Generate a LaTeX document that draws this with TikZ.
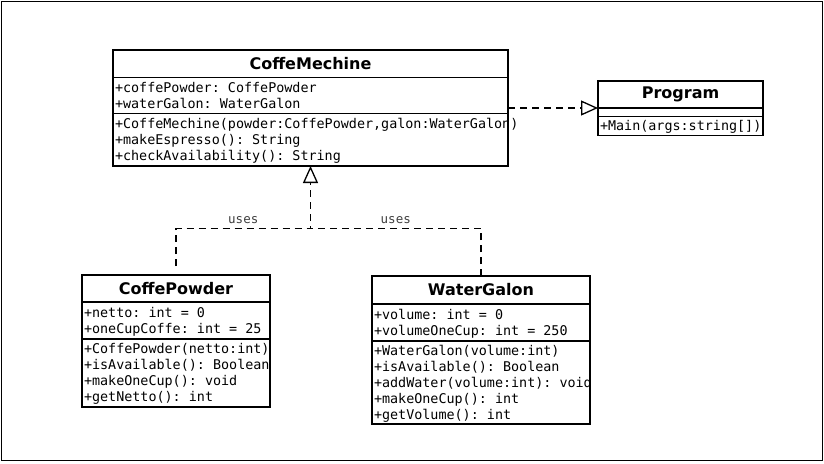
\documentclass[tikz,border=0pt]{standalone}
\usepackage{fontspec}
\setmainfont{DejaVu Sans}
\setmonofont{DejaVu Sans Mono}
\usepackage{tikz}
\usetikzlibrary{arrows.meta, positioning}
\newcommand{\umltitle}{\bfseries\fontsize{16}{18}\selectfont}
\newcommand{\umlmember}{\ttfamily\fontsize{13.4}{16}\selectfont}
\newcommand{\memberstrut}{\rule[-3.3pt]{0pt}{16pt}}
\tikzstyle{classbox}=[draw, line width=1.3pt, inner sep=0pt, outer sep=0pt]
\tikzstyle{classname}=[classbox, font=\umltitle]
\tikzstyle{members}=[classbox, font=\umlmember, align=left, inner xsep=2pt, inner ysep=1pt, execute at begin node={\spaceskip=0pt\xspaceskip=0pt\memberstrut}, execute at end node=\memberstrut]
\tikzstyle{usesedge}=[line width=1.4pt, dash pattern=on 7pt off 5pt]
\tikzstyle{realize}=[-{Triangle[open, length=17pt, width=15pt, line width=1.3pt]}]
\tikzstyle{useslabel}=[font=\ttfamily\fontsize{12.5}{14}\selectfont, text=black!75]

\begin{document}
\begin{tikzpicture}[x=1pt, y=-1pt]
\useasboundingbox (0,0) rectangle (824,463);
\draw[line width=1.5pt] (1.5,1.5) rectangle (822.5,460.5);

% CoffeMechine
\node[classname, anchor=north west, minimum width=395pt, minimum height=27.5pt] (cm_title) at (113,50) {CoffeMechine};
\node[members, text width=391pt, minimum height=36pt, below=0pt of cm_title] (cm_attr) {+coffePowder: CoffePowder\\+waterGalon: WaterGalon};
\node[members, text width=391pt, minimum height=52.5pt, below=0pt of cm_attr] (cm_meth) {+CoffeMechine(powder:CoffePowder,galon:WaterGalon)\\+makeEspresso(): String\\+checkAvailability(): String};

% Program
\node[classname, anchor=north west, minimum width=165pt, minimum height=27pt] (prog_title) at (598,81) {Program};
\node[classbox, minimum width=165pt, minimum height=8.7pt, below=0pt of prog_title] (prog_attr) {};
\node[members, text width=161pt, minimum height=19pt, below=0pt of prog_attr] (prog_meth) {+Main(args:string[])};

% CoffePowder
\node[classname, anchor=north west, minimum width=188pt, minimum height=27pt] (cp_title) at (82,275) {CoffePowder};
\node[members, text width=184pt, minimum height=37pt, below=0pt of cp_title] (cp_attr) {+netto: int = 0\\+oneCupCoffe:~int~=~25};
\node[members, text width=184pt, minimum height=68pt, below=0pt of cp_attr] (cp_meth) {+CoffePowder(netto:int)\\+isAvailable():~Boolean\\+makeOneCup(): void\\+getNetto(): int};

% WaterGalon
\node[classname, anchor=north west, minimum width=218pt, minimum height=28pt] (wg_title) at (372,276) {WaterGalon};
\node[members, text width=214pt, minimum height=37pt, below=0pt of wg_title] (wg_attr) {+volume: int = 0\\+volumeOneCup:~int~=~250};
\node[members, text width=214pt, minimum height=83pt, below=0pt of wg_attr] (wg_meth) {+WaterGalon(volume:int)\\+isAvailable(): Boolean\\+addWater(volume:int):~void\\+makeOneCup(): int\\+getVolume(): int};

% edges
\coordinate (join) at (310.5,228.5);
\draw[usesedge, realize] ([yshift=9pt]cp_title.north) |- node[useslabel, pos=0.75, yshift=8pt] {uses} (join) -- (cm_meth.south);
\draw[usesedge] (wg_title.north) |- node[useslabel, pos=0.75, yshift=8pt] {uses} (join);
\draw[usesedge, realize] (cm_attr.east |- prog_title.south) -- (prog_title.south west);

\end{tikzpicture}
\end{document}
